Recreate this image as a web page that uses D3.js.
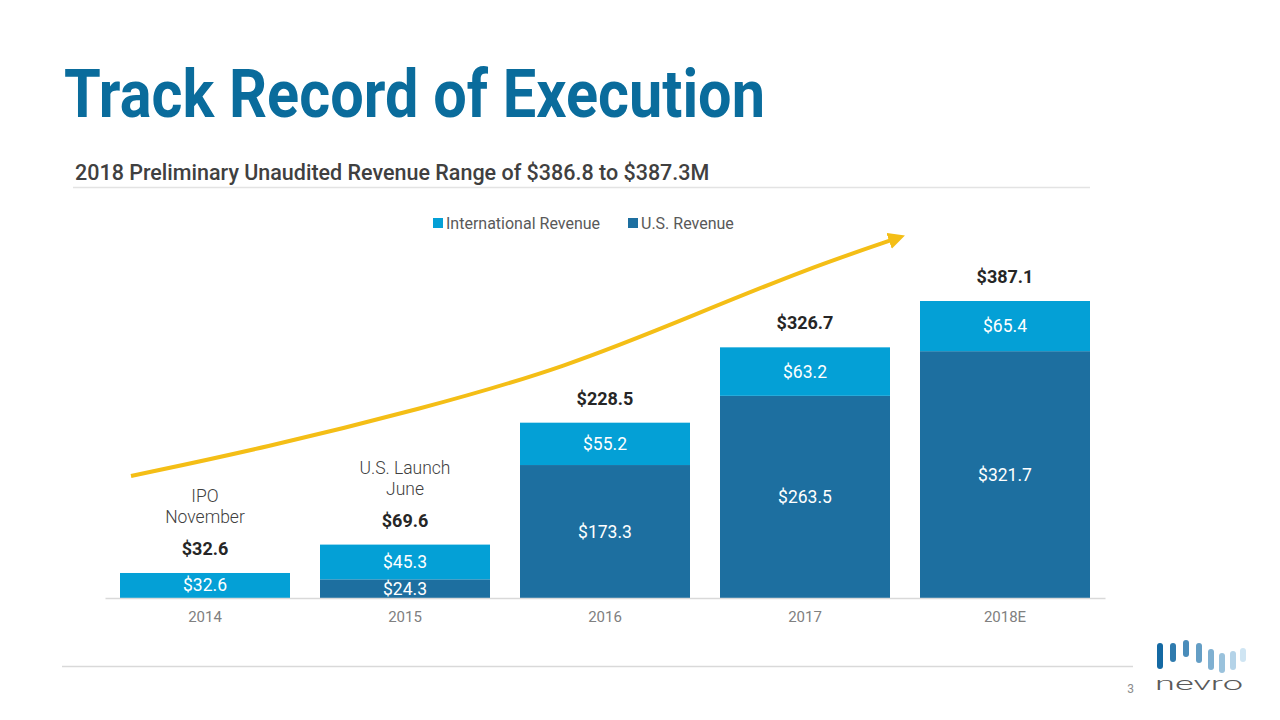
<!DOCTYPE html>
<html><head><meta charset="utf-8">
<script src="https://cdn.jsdelivr.net/npm/d3@7/dist/d3.min.js"></script>
<style>body{margin:0;background:#fff;}svg{display:block;font-family:Roboto,"Noto Sans",sans-serif;}</style>
</head><body>
<svg id="c" width="1280" height="720"></svg>
<script>
const categories = ["2014","2015","2016","2017","2018E"];
const usRevenue = [0, 24.3, 173.3, 263.5, 321.7];
const intlRevenue = [32.6, 45.3, 55.2, 63.2, 65.4];
const totals = [32.6, 69.6, 228.5, 326.7, 387.1];
const seriesNames = ["International Revenue","U.S. Revenue"];
const annotations = [["IPO","November"],["U.S. Launch","June"],null,null,null];
// trend arrow: [category index position, value level]
const trendLine = [[-0.37,159],[0.3,196],[1.075,246],[1.8,300],[2.475,372],[3.0,428],[3.46,469]];

const svg = d3.select("#c");
const cUS = "#1D6FA0", cIntl = "#04A0D6";

svg.append("text").attr("x",64).attr("y",117).attr("font-size",66).attr("font-weight",700)
  .attr("fill","#0A6C9C").attr("textLength",701).attr("lengthAdjust","spacingAndGlyphs").text("Track Record of Execution");
svg.append("text").attr("x",75).attr("y",180).attr("font-size",21.5).attr("font-weight",500)
  .attr("fill","#404040").text("2018 Preliminary Unaudited Revenue Range of $386.8 to $387.3M");
svg.append("line").attr("x1",73).attr("x2",1090).attr("y1",187.5).attr("y2",187.5).attr("stroke","#E3E3E3").attr("stroke-width",1.5);

const x = d3.scaleBand().domain(categories).range([105,1105]).paddingInner(0.15).paddingOuter(0.075);
const y = d3.scaleLinear().domain([0,387.1]).range([598,301]);

// legend
const leg = [[seriesNames[0],cIntl,433],[seriesNames[1],cUS,628]];
leg.forEach(([n,c,lx])=>{
  svg.append("rect").attr("x",lx).attr("y",218).attr("width",10).attr("height",10).attr("fill",c);
  svg.append("text").attr("x",lx+13).attr("y",229).attr("font-size",16).attr("fill","#595959").text(n);
});

const g = svg.append("g");
categories.forEach((cat,i)=>{
  const bx = x(cat), bw = x.bandwidth(), cx = bx+bw/2;
  if (usRevenue[i]>0){
    g.append("rect").attr("x",bx).attr("y",y(usRevenue[i])).attr("width",bw).attr("height",y(0)-y(usRevenue[i])).attr("fill",cUS);
    const my = (y(0)+y(usRevenue[i]))/2;
    g.append("text").attr("x",cx).attr("y",my+6).attr("text-anchor","middle").attr("font-size",17.5).attr("fill","#fff").text("$"+usRevenue[i].toFixed(1));
  }
  const top = y(usRevenue[i]+intlRevenue[i]);
  g.append("rect").attr("x",bx).attr("y",top).attr("width",bw).attr("height",y(usRevenue[i])-top).attr("fill",cIntl);
  const my2 = (top+y(usRevenue[i]))/2;
  g.append("text").attr("x",cx).attr("y",my2+6).attr("text-anchor","middle").attr("font-size",17.5).attr("fill","#fff").text("$"+intlRevenue[i].toFixed(1));
  g.append("text").attr("x",cx).attr("y",y(totals[i])-18).attr("text-anchor","middle").attr("font-size",18).attr("font-weight",700).attr("fill","#262626").text("$"+totals[i].toFixed(1));
  if (annotations[i]){
    annotations[i].forEach((t,k)=>{
      g.append("text").attr("x",cx).attr("y",y(totals[i])-71+k*21).attr("text-anchor","middle").attr("font-size",17.5).attr("font-weight",300).attr("fill","#404040").text(t);
    });
  }
});

// axis
const ax = svg.append("g").attr("transform","translate(0,598)").call(d3.axisBottom(x).tickSize(0).tickPadding(13));
ax.select(".domain").attr("stroke","#D9D9D9").attr("stroke-width",1.3);
ax.selectAll("text").attr("font-size",15).attr("fill","#808080").attr("font-family","Roboto");

// trend arrow
const tx = d3.scaleLinear().domain([0,1]).range([x("2014")+x.bandwidth()/2, x("2015")+x.bandwidth()/2]);
svg.append("defs").append("marker").attr("id","ah").attr("viewBox","0 0 10 10").attr("refX",5).attr("refY",5)
  .attr("markerWidth",4.2).attr("markerHeight",4.2).attr("orient","auto")
  .append("path").attr("d","M0,0 L10,5 L0,10 Z").attr("fill","#F4BE16");
svg.append("path").datum(trendLine).attr("d",d3.line().x(d=>tx(d[0])).y(d=>y(d[1])).curve(d3.curveBasis))
  .attr("fill","none").attr("stroke","#F4BE16").attr("stroke-width",4).attr("marker-end","url(#ah)");

// footer
svg.append("line").attr("x1",62).attr("x2",1133).attr("y1",666.5).attr("y2",666.5).attr("stroke","#D9D9D9").attr("stroke-width",1.3);
svg.append("text").attr("x",1134).attr("y",693).attr("text-anchor","end").attr("font-size",12).attr("fill","#8C8C8C").text("3");

// logo
const logoBars = [[1157,643,669],[1170,643,662],[1183,640,657],[1196,643,663],[1208,649,670],[1219,653,673],[1230,651,670],[1240,648,662]];
const logoCol = d3.scaleLinear().domain([0,7]).range(["#1469A3","#CFE5F3"]);
logoBars.forEach((b,i)=>{
  svg.append("rect").attr("x",b[0]).attr("y",b[1]).attr("width",6).attr("height",b[2]-b[1]).attr("rx",3).attr("fill",logoCol(i));
});
svg.append("text").attr("x",1155).attr("y",690).attr("font-size",18).attr("font-weight",300).attr("fill","#5A5A5A")
  .attr("textLength",88).attr("lengthAdjust","spacingAndGlyphs").text("nevro");
</script>
</body></html>
